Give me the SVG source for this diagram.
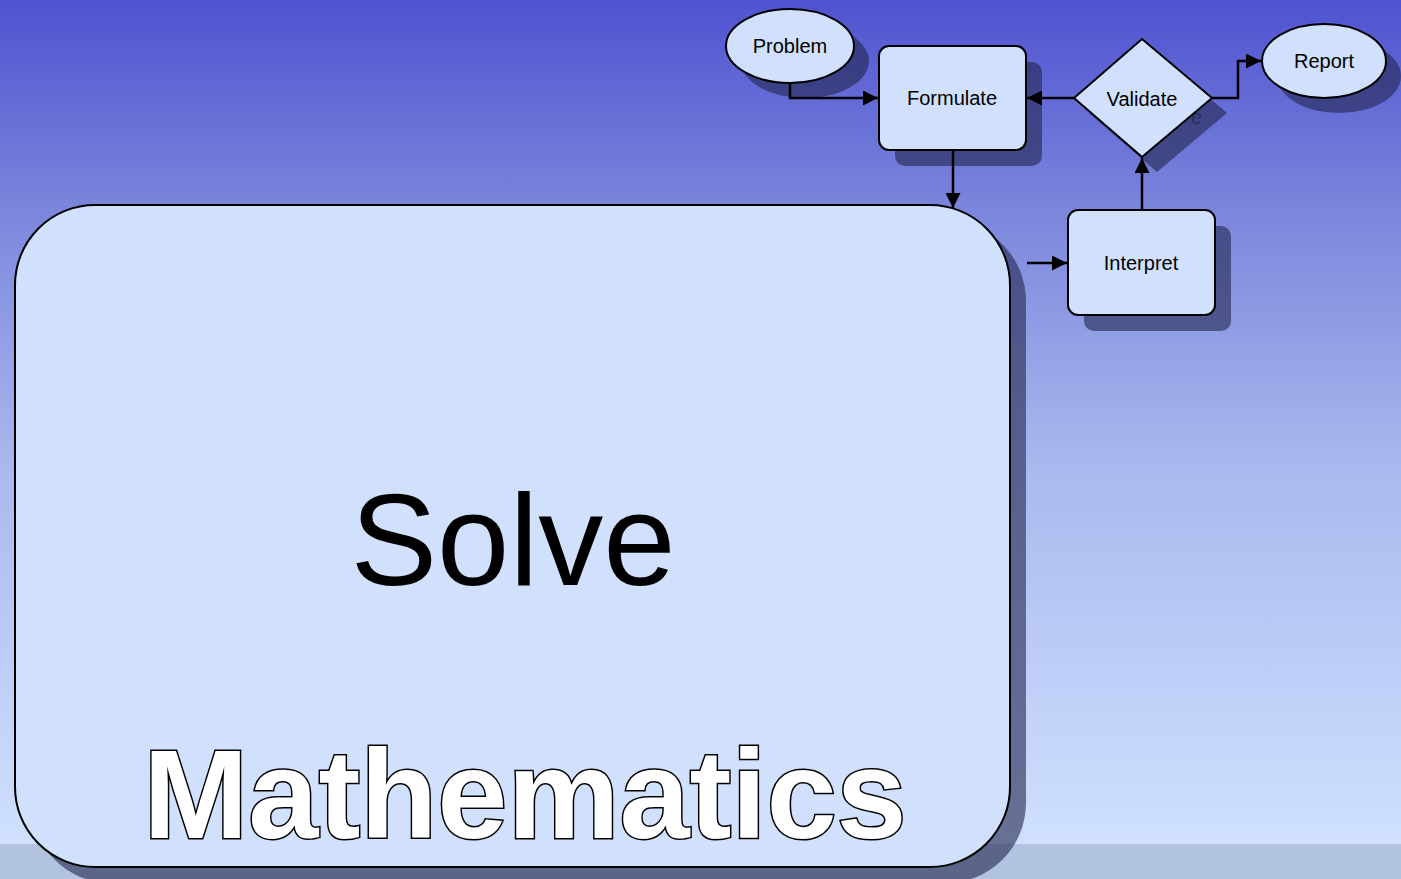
<svg xmlns="http://www.w3.org/2000/svg" width="1401" height="879" viewBox="0 0 1401 879">
<defs>
<linearGradient id="bg" x1="0" y1="0" x2="0" y2="844" gradientUnits="userSpaceOnUse">
<stop offset="0" stop-color="#4f53d0"/>
<stop offset="0.25" stop-color="#7b86dc"/>
<stop offset="0.55" stop-color="#a9b8ee"/>
<stop offset="1" stop-color="#d0e0fe"/>
</linearGradient>
<marker id="arr" viewBox="0 0 10 10" refX="10" refY="5" markerWidth="6" markerHeight="6" markerUnits="strokeWidth" orient="auto">
<path d="M0,0 L10,5 L0,10 Z" fill="#000"/>
</marker>
<style>
.node{fill:#d0e0fd;stroke:#000;stroke-width:2}
.shadow{fill:#22264f;fill-opacity:0.6}
.lbl{font-family:"Liberation Sans",Arial,sans-serif;font-size:20px;fill:#000;text-anchor:middle}
.conn{fill:none;stroke:#000;stroke-width:2.5;marker-end:url(#arr)}
.big{font-family:"Liberation Sans",Arial,sans-serif;font-size:130px;fill:#000;text-anchor:middle}
.title{font-family:"Liberation Sans",Arial,sans-serif;font-size:126px;font-weight:700;fill:#fff;stroke:#000;stroke-width:3;paint-order:stroke;text-anchor:middle}
</style>
</defs>
<rect x="0" y="0" width="1401" height="844" fill="url(#bg)"/>
<rect x="0" y="844" width="1401" height="35" fill="#b1c3dd"/>

<g id="solve">
<rect class="shadow" x="31" y="221" width="995" height="662" rx="80"/>
<rect class="node" x="15" y="205" width="995" height="662" rx="80"/>
<text class="big" x="513" y="585">Solve</text>
<text class="title" x="525" y="838">Mathematics</text>
</g>

<g id="problem">
<ellipse class="shadow" cx="805" cy="61" rx="64" ry="37"/>
<ellipse class="node" cx="790" cy="46" rx="64" ry="37"/>
<text class="lbl" x="790" y="53">Problem</text>
</g>

<g id="formulate">
<rect class="shadow" x="895" y="62" width="147" height="104" rx="10"/>
<rect class="node" x="879" y="46" width="147" height="104" rx="10"/>
<text class="lbl" x="952" y="105">Formulate</text>
</g>

<g id="validate">
<polygon class="shadow" points="1157,54 1227,113 1157,172 1089,113"/>
<text x="1191" y="124" font-family="'Liberation Sans',Arial,sans-serif" font-size="20" fill="#2a2e50">e</text>
<polygon class="node" points="1142,39 1212,98 1142,157 1074,98"/>
<text class="lbl" x="1142" y="106">Validate</text>
</g>

<g id="report">
<ellipse class="shadow" cx="1339" cy="76" rx="62" ry="37"/>
<ellipse class="node" cx="1324" cy="61" rx="62" ry="37"/>
<text class="lbl" x="1324" y="68">Report</text>
</g>

<g id="interpret">
<rect class="shadow" x="1084" y="226" width="147" height="105" rx="10"/>
<rect class="node" x="1068" y="210" width="147" height="105" rx="10"/>
<text class="lbl" x="1141" y="270">Interpret</text>
</g>

<g id="connectors">
<path class="conn" d="M790,83 L790,98 L878,98"/>
<path class="conn" d="M1074,98 L1027,98"/>
<path class="conn" d="M953,150 L953,208"/>
<path class="conn" d="M1027,263 L1067,263"/>
<path class="conn" d="M1142,210 L1142,158"/>
<path class="conn" d="M1212,98 L1238,98 L1238,61 L1261,61"/>
</g>
</svg>
